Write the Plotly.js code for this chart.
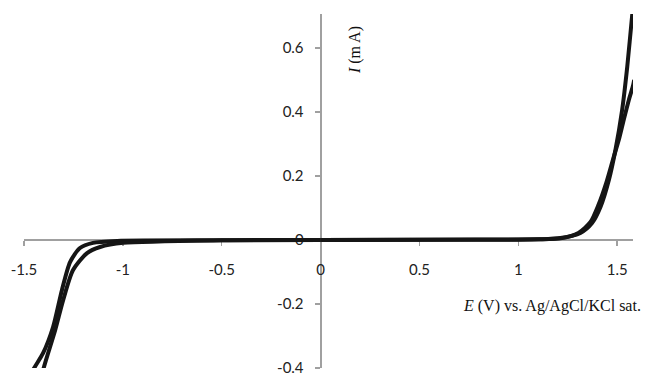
<!DOCTYPE html>
<html>
<head>
<meta charset="utf-8">
<script src="https://cdn.plot.ly/plotly-3.0.1.min.js"></script>
<style>html,body{margin:0;padding:0;background:#fff;}#chart{width:647px;height:377px;}</style>
</head>
<body>
<div id="chart"></div>
<script>
// Anodic branch, forward (steeper) scan
var E_anodic_fwd = [0, 0.5, 1.0, 1.11, 1.213, 1.314, 1.373, 1.416, 1.458, 1.491, 1.525, 1.551, 1.576, 1.586];
var I_anodic_fwd = [0, 0.001, 0.001, 0.002, 0.006, 0.022, 0.053, 0.104, 0.1875, 0.281, 0.406, 0.542, 0.703, 0.76];
// Anodic branch, reverse (flatter) scan
var E_anodic_rev = [1.586, 1.581, 1.559, 1.533, 1.508, 1.481, 1.446, 1.405, 1.365, 1.304, 1.213, 1.1, 0.5, 0];
var I_anodic_rev = [0.5, 0.484, 0.4375, 0.375, 0.3125, 0.256, 0.181, 0.109, 0.056, 0.022, 0.005, 0.002, 0.001, 0];
// Cathodic branch, outer scan
var E_cath_outer = [0, -0.5, -1.029, -1.151, -1.217, -1.267, -1.308, -1.353, -1.403, -1.454, -1.47];
var I_cath_outer = [0, -0.001, -0.003, -0.009, -0.025, -0.069, -0.156, -0.272, -0.353, -0.406, -0.43];
// Cathodic branch, inner scan
var E_cath_inner = [-1.415, -1.403, -1.342, -1.302, -1.252, -1.181, -1.115, -0.998, -0.5, 0];
var I_cath_inner = [-0.45, -0.406, -0.281, -0.188, -0.094, -0.041, -0.022, -0.009, -0.001, 0];

var xTickVals = [-1.5, -1, -0.5, 0, 0.5, 1, 1.5];
var xTickText = ["-1.5", "-1", "-0.5", "0", "0.5", "1", "1.5"];
var yTickVals = [-0.4, -0.2, 0, 0.2, 0.4, 0.6];
var yTickText = ["-0.4", "-0.2", "0", "0.2", "0.4", "0.6"];

var xRange = [-1.5, 1.58];
var yRange = [-0.4, 0.706];

function tr(x, y) {
  return {x: x, y: y, type: 'scatter', mode: 'lines',
    line: {color: '#151515', width: 4, shape: 'spline', smoothing: 0.7},
    hoverinfo: 'skip', showlegend: false};
}

var data = [
  tr(E_cath_outer, I_cath_outer),
  tr(E_cath_inner, I_cath_inner),
  tr(E_anodic_fwd, I_anodic_fwd),
  tr(E_anodic_rev, I_anodic_rev)
];

var axisColor = '#a0a0a0';
var tickFont = {family: 'Lato, "Open Sans", sans-serif', size: 15, color: '#222'};

var layout = {
  width: 647, height: 377,
  margin: {l: 24, r: 14, t: 14, b: 9},
  paper_bgcolor: '#fff', plot_bgcolor: '#fff',
  showlegend: false,
  xaxis: {
    range: xRange, anchor: 'free',
    position: (0 - yRange[0]) / (yRange[1] - yRange[0]),
    showline: true, linecolor: axisColor, linewidth: 2, layer: 'below traces',
    ticks: 'outside', ticklen: 5, tickwidth: 1.5, tickcolor: axisColor,
    tickvals: xTickVals, ticktext: xTickText, tickfont: tickFont,
    ticklabelstandoff: 11,
    showgrid: false, zeroline: false
  },
  yaxis: {
    range: yRange, anchor: 'free',
    position: (0 - xRange[0]) / (xRange[1] - xRange[0]),
    showline: true, linecolor: axisColor, linewidth: 2, layer: 'below traces',
    ticks: 'outside', ticklen: 5, tickwidth: 1.5, tickcolor: axisColor,
    tickvals: yTickVals, ticktext: yTickText, tickfont: tickFont,
    ticklabelstandoff: 8,
    showgrid: false, zeroline: false
  },
  annotations: [
    {text: '<i>I</i> (m A)', xref: 'paper', yref: 'paper', x: 0.5435, y: 0.898,
     showarrow: false, textangle: -90, xanchor: 'center', yanchor: 'middle',
     font: {family: '"Liberation Serif", "DejaVu Serif", serif', size: 16, color: '#111'}},
    {text: '<i>E</i> (V) vs. Ag/AgCl/KCl sat.', xref: 'paper', yref: 'paper', x: 1.0164, y: 0.175,
     showarrow: false, xanchor: 'right', yanchor: 'middle',
     font: {family: '"Liberation Serif", "DejaVu Serif", serif', size: 16, color: '#111'}}
  ]
};

Plotly.newPlot('chart', data, layout, {staticPlot: true, displayModeBar: false});
</script>
</body>
</html>
